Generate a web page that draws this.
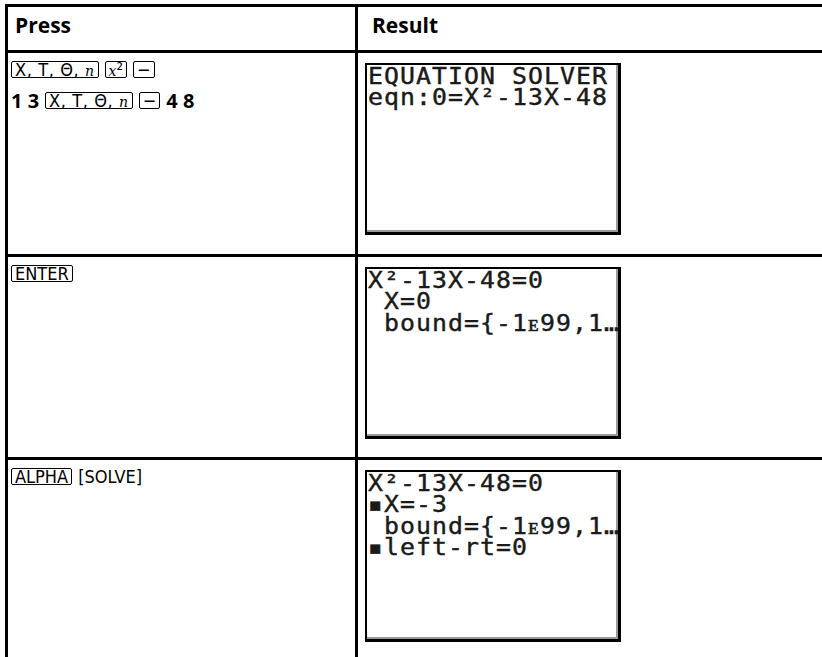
<!DOCTYPE html>
<html>
<head>
<meta charset="utf-8">
<script src="https://cdn.jsdelivr.net/npm/chart.js@4"></script>
<style>
  html, body { margin: 0; padding: 0; width: 822px; height: 657px; overflow: hidden; background: #fff; }
  #page { position: relative; width: 822px; height: 657px; }
  .ln { position: absolute; background: #000; }
  .hd { position: absolute; font-family: "Open Sans", sans-serif; font-weight: 700; font-size: 21px; line-height: 24px; color: #000; }
  .press { position: absolute; left: 11px; font-family: "Open Sans", sans-serif; font-weight: 700; font-size: 20px; color: #000; white-space: nowrap; }
  .press .row { height: 31px; display: flex; align-items: center; }
  .key { display: inline-block; box-sizing: border-box; border: 1px solid #000; border-radius: 2px; padding: 0 3px; height: 17px; line-height: 15px;
         font-family: "Liberation Sans Narrow", "DejaVu Sans Condensed", sans-serif; font-weight: 400; font-size: 18px; margin-right: 6px; }
  .key i { font-family: "DejaVu Serif", serif; font-size: 14px; }
  .key.wide { letter-spacing: 0.6px; }
  .sec { display: inline-block; font-family: "Liberation Sans Narrow", "DejaVu Sans Condensed", sans-serif; font-weight: 400; font-size: 18px; line-height: 15px; margin-right: 6px; }
  .num { margin-right: 6px; line-height: 20px; }
  .screen { position: absolute; left: 365px; width: 251px; height: 167px; border: 2px solid #000; border-right-width: 3px; border-bottom-width: 3px;
            box-shadow: inset -2px -2px 0 #9a9a9a; background: #fff; overflow: hidden; }
  .screen .tx { position: absolute; left: 1px; top: 1px; transform-origin: 0 0; transform: scale(1.08, 1);
                font-family: "DejaVu Sans Mono", monospace; font-size: 23px; line-height: 21.3px; letter-spacing: 0.96px;
                white-space: pre; color: #1a1a1a; -webkit-text-stroke: 0.4px #1a1a1a; }
</style>
</head>
<body>
<div id="page"></div>
<script>
// column headers
const headers = ['Press', 'Result'];

// left column: keystrokes per row (k = key box, s = secondary label, n = typed digits)
const pressRows = [
  [
    [['k', 'X, T, Θ, <i>n</i>'], ['k', '<i>x</i>²'], ['k', '−']],
    [['n', '1 3'], ['k', 'X, T, Θ, <i>n</i>'], ['k', '−'], ['n', '4 8']]
  ],
  [
    [['k', 'ENTER']]
  ],
  [
    [['k', 'ALPHA'], ['s', '[SOLVE]']]
  ]
];

// right column: calculator screen text
const screenRows = [
  ['EQUATION SOLVER', 'eqn:0=X²-13X-48'],
  ['X²-13X-48=0', ' X=0', ' bound={-1ᴇ99,1…'],
  ['X²-13X-48=0', '▪X=-3', ' bound={-1ᴇ99,1…', '▪left-rt=0']
];

// row separators (top of each body row)
const rowTops = [52, 256, 459];

const page = document.getElementById('page');

function line(x, y, w, h) {
  const d = document.createElement('div');
  d.className = 'ln';
  d.style.left = x + 'px'; d.style.top = y + 'px';
  d.style.width = w + 'px'; d.style.height = h + 'px';
  page.appendChild(d);
}

// table frame
line(5, 4, 817, 3);
line(5, 4, 3, 653);
line(355, 4, 3, 653);
rowTops.forEach(y => line(5, y - 2, 817, 3));

// headers
headers.forEach((h, i) => {
  const d = document.createElement('div');
  d.className = 'hd';
  d.style.left = (i === 0 ? 15 : 372) + 'px';
  d.style.top = '13px';
  d.textContent = h;
  page.appendChild(d);
});

// keystrokes
pressRows.forEach((rows, r) => {
  const box = document.createElement('div');
  box.className = 'press';
  box.style.top = (rowTops[r] + 2) + 'px';
  rows.forEach(items => {
    const row = document.createElement('div');
    row.className = 'row';
    items.forEach(([t, s]) => {
      const sp = document.createElement('span');
      sp.className = t === 'k' ? 'key' + (s.includes('Θ') ? ' wide' : '') : (t === 's' ? 'sec' : 'num');
      sp.innerHTML = s;
      row.appendChild(sp);
    });
    box.appendChild(row);
  });
  page.appendChild(box);
});

// screens
screenRows.forEach((lines, r) => {
  const sc = document.createElement('div');
  sc.className = 'screen';
  sc.style.top = (rowTops[r] + 11) + 'px';
  const tx = document.createElement('div');
  tx.className = 'tx';
  tx.textContent = lines.join('\n');
  sc.appendChild(tx);
  page.appendChild(sc);
});
</script>
</body>
</html>
